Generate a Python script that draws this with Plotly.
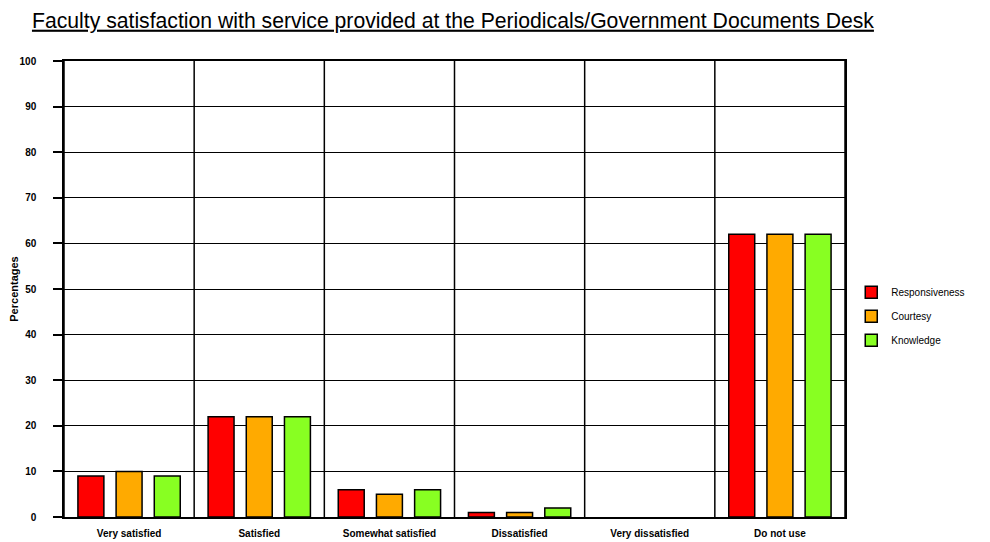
import plotly.graph_objects as go

categories = ["Very satisfied", "Satisfied", "Somewhat satisfied", "Dissatisfied", "Very dissatisfied", "Do not use"]
responsiveness = [9, 22, 6, 1, 0, 62]
courtesy = [10, 22, 5, 1, 0, 62]
knowledge = [9, 22, 6, 2, 0, 62]
series_names = ["Responsiveness", "Courtesy", "Knowledge"]
colors = ["#ff0000", "#ffaa00", "#88ff22"]
y_ticks = list(range(0, 101, 10))

fig = go.Figure()
for name, vals, col in zip(series_names, [responsiveness, courtesy, knowledge], colors):
    fig.add_trace(go.Bar(x=categories, y=vals, name=name, legendgroup=name,
                         marker=dict(color=col,
                                     line=dict(color="black", width=[1.5 if v > 0 else 0 for v in vals]))))

# vertical separators between categories
for i in range(len(categories) + 1):
    fig.add_shape(type="line", xref="x", yref="paper", x0=i - 0.5, x1=i - 0.5, y0=0, y1=1,
                  line=dict(color="black", width=1.5), layer="below")

fig.update_layout(
    width=982, height=534,
    margin=dict(l=56, r=145, t=53, b=25, autoexpand=False),
    paper_bgcolor="white", plot_bgcolor="white",
    barmode="group", bargap=0.12, bargroupgap=0.32,
    font=dict(family="Liberation Sans, Arial", color="black"),
    title=dict(text="<u>Faculty satisfaction with service provided at the Periodicals/Government Documents Desk</u>",
               x=0.0244, xanchor="left", y=0.977, yanchor="middle",
               font=dict(size=21.2, color="black")),
    showlegend=True,
    legend=dict(x=1.008, y=0.44, xanchor="left", yanchor="middle",
                font=dict(size=10), itemwidth=30, tracegroupgap=5),
    xaxis=dict(range=[-0.5, len(categories) - 0.5], showgrid=False, showline=True,
               linecolor="black", linewidth=1.5, mirror=True, ticks="",
               tickvals=categories, ticktext=["<b>" + c + "</b>" for c in categories],
               tickfont=dict(size=10), ticklabelstandoff=6, automargin=False),
    yaxis=dict(range=[0, 100], tickvals=y_ticks, ticktext=["<b>%d</b>" % v for v in y_ticks],
               showgrid=True, gridcolor="black", gridwidth=1.2,
               showline=True, linecolor="black", linewidth=1.5, mirror=True,
               ticks="outside", ticklen=9, tickcolor="black", tickwidth=1.5,
               ticklabelstandoff=15, automargin=False,
               tickfont=dict(size=10), zeroline=False,
               title=dict(text="<b>Percentages</b>", font=dict(size=11), standoff=8)),
)

fig.write_html("out.html")
